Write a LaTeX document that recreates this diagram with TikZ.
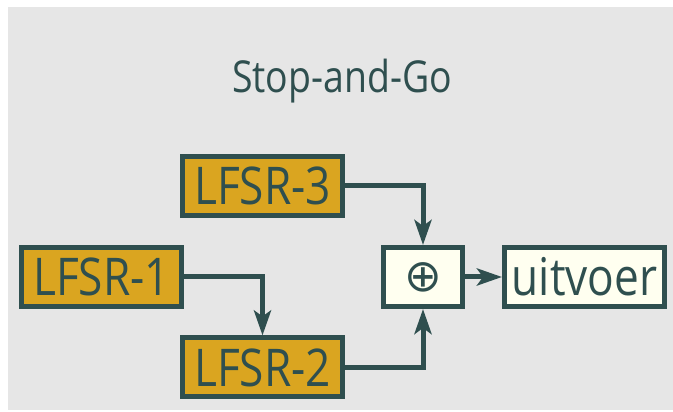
\documentclass[tikz,border=0pt]{standalone}
\usepackage{fontspec}
\setmainfont[FakeStretch=0.85]{Open Sans}
\newfontfamily\symfont{DejaVu Sans}
\usetikzlibrary{arrows.meta}
\definecolor{slate}{HTML}{2F4F4F}
\definecolor{gold}{HTML}{DAA520}
\definecolor{paper}{HTML}{FFFFF0}
\definecolor{panel}{HTML}{E6E6E6}

\begin{document}
\begin{tikzpicture}[x=1pt,y=1pt]
\tikzstyle{every node}+=[inner sep=0pt, text=slate]
\tikzstyle{lfsr}=[draw=slate, fill=gold, line width=5pt, minimum width=160pt, minimum height=59pt, font=\fontsize{52}{52}\selectfont]
\tikzstyle{plain}=[draw=slate, fill=paper, line width=5pt, minimum height=59pt, font=\fontsize{52}{52}\selectfont]
\tikzstyle{wire}=[draw=slate, line width=5pt, -{Stealth[length=25pt, width=17pt, inset=6pt]}]
\useasboundingbox (0,0) rectangle (673,412);
\fill [white] (0,0) rectangle (673,412);
\fill [panel] (8,2) rectangle (673,405);
\node (title) at (342,331) {\fontsize{44}{44}\selectfont Stop-and-Go};
\node [lfsr] (lfsr3) at (262.5,226) {LFSR-3};
\node [lfsr] (lfsr1) at (101.5,135) {LFSR-1};
\node [lfsr] (lfsr2) at (262.5,44.5) {LFSR-2};
\node [plain, minimum width=79pt, font=\symfont\fontsize{45}{45}\selectfont] (xor) at (423,135) {⊕};
\node [plain, minimum width=160pt] (out) at (584.5,135) {uitvoer};
\draw [wire] (lfsr3) -| (xor);
\draw [wire] (lfsr1) -| (lfsr2);
\draw [wire] (lfsr2) -| (xor);
\draw [wire] (xor) -- (out);
\end{tikzpicture}
\end{document}
